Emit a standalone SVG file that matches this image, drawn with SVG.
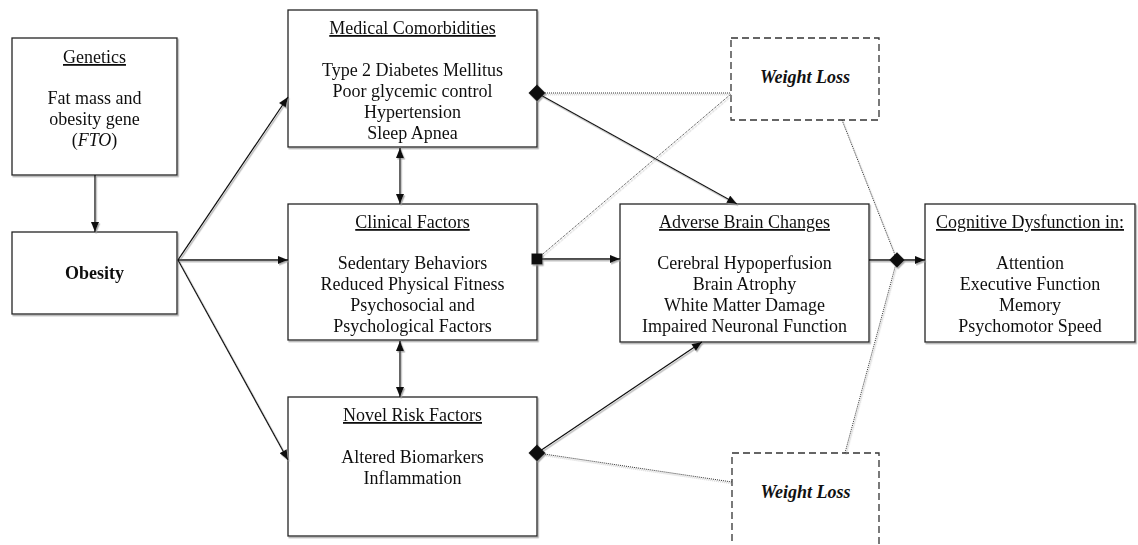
<svg xmlns="http://www.w3.org/2000/svg" width="1138" height="545" viewBox="0 0 1138 545">
<style>
  text { font-family: "Liberation Serif", "Times New Roman", serif; font-size: 18px; fill: #111; text-anchor: middle; }
  .u { text-decoration: underline; }
  .box { fill: #fff; stroke: #222; stroke-width: 1.3; }
  .dbox { fill: #fff; stroke: #333; stroke-width: 1.3; stroke-dasharray: 7 4; }
  .ln { fill: none; stroke: #111; stroke-width: 1.3; }
  .dot { fill: none; stroke: #333; stroke-width: 1; stroke-dasharray: 1 1; }
  .mk { fill: #111; }
</style>
<defs>
  <filter id="sh" x="-5%" y="-5%" width="110%" height="110%">
    <feDropShadow dx="1.2" dy="1.5" stdDeviation="0.4" flood-color="#999" flood-opacity="0.8"/>
  </filter>
  <marker id="ar" viewBox="0 0 10 8" refX="10" refY="4" markerWidth="11" markerHeight="8" markerUnits="userSpaceOnUse" orient="auto-start-reverse">
    <path d="M0,0 L10,4 L0,8 z" fill="#111"/>
  </marker>
</defs>

<g id="genetics" filter="url(#sh)">
  <rect class="box" x="12" y="38" width="165" height="137"/>
  <text class="u" x="94.5" y="63">Genetics</text>
  <text x="94.5" y="104">Fat mass and</text>
  <text x="94.5" y="125">obesity gene</text>
  <text x="94.5" y="146">(<tspan font-style="italic">FTO</tspan>)</text>
</g>

<g id="obesity" filter="url(#sh)">
  <rect class="box" x="12" y="232" width="165" height="82"/>
  <text x="94.5" y="279" font-weight="bold">Obesity</text>
</g>

<g id="medical" filter="url(#sh)">
  <rect class="box" x="288" y="10" width="249" height="137"/>
  <text class="u" x="412.5" y="34">Medical Comorbidities</text>
  <text x="412.5" y="76">Type 2 Diabetes Mellitus</text>
  <text x="412.5" y="97">Poor glycemic control</text>
  <text x="412.5" y="118">Hypertension</text>
  <text x="412.5" y="139">Sleep Apnea</text>
</g>

<g id="clinical" filter="url(#sh)">
  <rect class="box" x="288" y="204" width="249" height="136"/>
  <text class="u" x="412.5" y="228">Clinical Factors</text>
  <text x="412.5" y="269">Sedentary Behaviors</text>
  <text x="412.5" y="290">Reduced Physical Fitness</text>
  <text x="412.5" y="311">Psychosocial and</text>
  <text x="412.5" y="332">Psychological Factors</text>
</g>

<g id="novel" filter="url(#sh)">
  <rect class="box" x="288" y="397" width="249" height="139"/>
  <text class="u" x="412.5" y="421">Novel Risk Factors</text>
  <text x="412.5" y="463">Altered Biomarkers</text>
  <text x="412.5" y="484">Inflammation</text>
</g>

<g id="adverse" filter="url(#sh)">
  <rect class="box" x="620" y="204" width="249" height="138"/>
  <text class="u" x="744.5" y="228">Adverse Brain Changes</text>
  <text x="744.5" y="269">Cerebral Hypoperfusion</text>
  <text x="744.5" y="290">Brain Atrophy</text>
  <text x="744.5" y="311">White Matter Damage</text>
  <text x="744.5" y="332">Impaired Neuronal Function</text>
</g>

<g id="cognitive" filter="url(#sh)">
  <rect class="box" x="925" y="204" width="210" height="138"/>
  <text class="u" x="1030" y="228">Cognitive Dysfunction in:</text>
  <text x="1030" y="269">Attention</text>
  <text x="1030" y="290">Executive Function</text>
  <text x="1030" y="311">Memory</text>
  <text x="1030" y="332">Psychomotor Speed</text>
</g>

<g id="weightloss-top">
  <rect class="dbox" x="731" y="38" width="148" height="82"/>
  <text x="805" y="83" font-weight="bold" font-style="italic">Weight Loss</text>
</g>

<g id="weightloss-bottom">
  <path class="dbox" d="M732,552 L732,453 L879,453 L879,552"/>
  <text x="805.5" y="498" font-weight="bold" font-style="italic">Weight Loss</text>
</g>

<g id="connectors" filter="url(#sh)">
  <line class="ln" x1="95" y1="175" x2="95" y2="232" marker-end="url(#ar)"/>
  <line class="ln" x1="178" y1="260" x2="288" y2="97" marker-end="url(#ar)"/>
  <line class="ln" x1="178" y1="260" x2="288" y2="260" marker-end="url(#ar)"/>
  <line class="ln" x1="178" y1="260" x2="288" y2="460" marker-end="url(#ar)"/>
  <line class="ln" x1="400" y1="148" x2="400" y2="204" marker-start="url(#ar)" marker-end="url(#ar)"/>
  <line class="ln" x1="400" y1="341" x2="400" y2="397" marker-start="url(#ar)" marker-end="url(#ar)"/>
  <line class="ln" x1="537" y1="93" x2="737" y2="204" marker-end="url(#ar)"/>
  <line class="ln" x1="537" y1="259" x2="620" y2="259" marker-end="url(#ar)"/>
  <line class="ln" x1="537" y1="453" x2="702" y2="342" marker-end="url(#ar)"/>
  <line class="ln" x1="869" y1="260" x2="925" y2="260" marker-end="url(#ar)"/>
  <line class="dot" x1="537" y1="93" x2="731" y2="93"/>
  <line class="dot" x1="537" y1="259" x2="731" y2="94"/>
  <line class="dot" x1="537" y1="453" x2="732" y2="482"/>
  <line class="dot" x1="842" y1="120" x2="897" y2="260"/>
  <line class="dot" x1="845" y1="453" x2="897" y2="260"/>
  <rect class="mk" x="531" y="87" width="12" height="12" transform="rotate(45 537 93)"/>
  <rect class="mk" x="531.5" y="253.5" width="11" height="11"/>
  <rect class="mk" x="531" y="447" width="12" height="12" transform="rotate(45 537 453)"/>
  <rect class="mk" x="891.5" y="254.5" width="11" height="11" transform="rotate(45 897 260)"/>
</g>
</svg>
